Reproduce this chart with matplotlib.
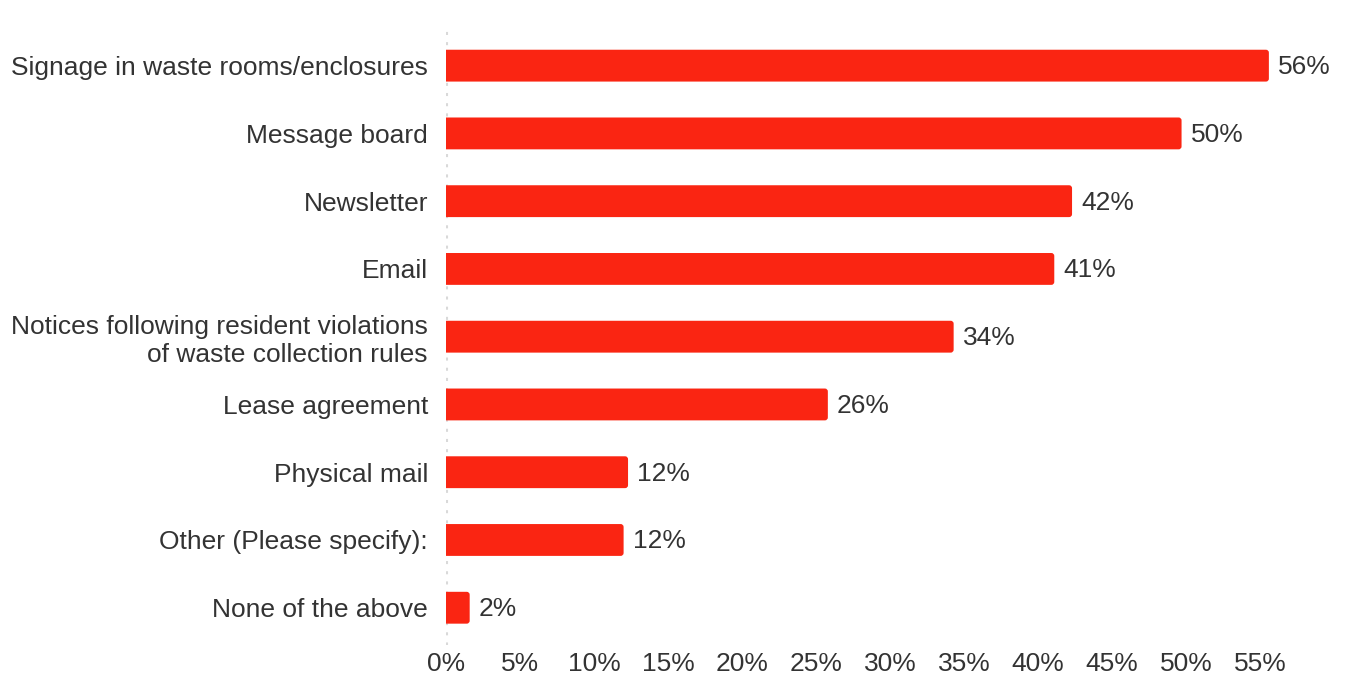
import matplotlib
matplotlib.use("Agg")
import matplotlib.pyplot as plt
from matplotlib.patches import FancyBboxPatch

categories = [
    "Signage in waste rooms/enclosures",
    "Message board",
    "Newsletter",
    "Email",
    "Notices following resident violations\nof waste collection rules",
    "Lease agreement",
    "Physical mail",
    "Other (Please specify):",
    "None of the above",
]
values = [55.6, 49.7, 42.3, 41.1, 34.3, 25.8, 12.3, 12.0, 1.6]
xticks = [0, 5, 10, 15, 20, 25, 30, 35, 40, 45, 50, 55]
xtick_labels = [f"{t}%" for t in xticks]

BAR_COLOR = "#FA2512"
TEXT_COLOR = "#333333"
FS = 19
plt.rcParams["font.family"] = ["Liberation Sans", "DejaVu Sans"]

W, H = 1346, 677
fig = plt.figure(figsize=(W / 100, H / 100), dpi=100)
left_px, right_px, top_px, bottom_px = 446, 1334, 25, 645
ax = fig.add_axes([left_px / W, 1 - bottom_px / H,
                   (right_px - left_px) / W, (bottom_px - top_px) / H])

ypos = list(range(len(categories)))
bar_h = 0.47
bars = ax.barh(ypos, values, height=bar_h, color=BAR_COLOR, linewidth=0)
ax.set_xlim(0, 60)
ax.set_ylim(len(categories) - 0.45, -0.6)

# replace bars with right-rounded versions (left corners clipped by axes)
for b in bars:
    x0, y0 = b.get_x(), b.get_y()
    w, h = b.get_width(), b.get_height()
    b.set_visible(False)
    r = min(0.2, w / 2)
    ax.add_patch(FancyBboxPatch((x0 - 0.5, y0), w + 0.5, h,
                                boxstyle=f"round,pad=0,rounding_size={r}",
                                mutation_aspect=0.22, facecolor=BAR_COLOR,
                                edgecolor="none"))
    ax.annotate(f"{round(w)}%", xy=(w, y0 + h / 2), xytext=(6.5, -1),
                textcoords="offset points", ha="left", va="center",
                fontsize=FS, color=TEXT_COLOR)

ax.axvline(0, color="#d9d9d9", linewidth=2.2, linestyle=(0, (1, 2.33)),
           zorder=0)

for s in ax.spines.values():
    s.set_visible(False)

ax.set_yticks(ypos)
ax.set_yticklabels(categories, fontsize=FS, color=TEXT_COLOR, linespacing=1.22)
ax.set_xticks(xticks)
ax.set_xticklabels(xtick_labels, fontsize=FS, color=TEXT_COLOR)
ax.tick_params(axis="y", length=0, pad=13)
ax.tick_params(axis="x", length=0, pad=5)

fig.savefig("out.png", dpi=100)
